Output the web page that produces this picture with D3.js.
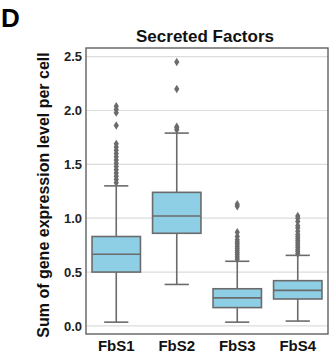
<!DOCTYPE html>
<html>
<head>
<meta charset="utf-8">
<script src="https://cdn.jsdelivr.net/npm/d3@7"></script>
<style>
  html, body { margin: 0; padding: 0; background: #fff; }
  svg { display: block; font-family: "Liberation Sans", Arial, sans-serif; }
</style>
</head>
<body>
<svg id="chart" width="330" height="356"></svg>
<script>
// Box-plot summary per fibroblast subset
const categories = ["FbS1", "FbS2", "FbS3", "FbS4"];
const q1 = [0.50, 0.86, 0.17, 0.25];
const median = [0.665, 1.02, 0.26, 0.33];
const q3 = [0.83, 1.24, 0.345, 0.42];
const whiskerLow = [0.035, 0.385, 0.035, 0.045];
const whiskerHigh = [1.30, 1.79, 0.60, 0.655];
const outliers = [
  [1.33, 1.36, 1.39, 1.42, 1.45, 1.48, 1.51, 1.54, 1.57, 1.60, 1.63, 1.66, 1.69, 1.86, 1.98, 2.01, 2.04],
  [1.82, 1.84, 1.85, 2.20, 2.45],
  [0.62, 0.64, 0.66, 0.68, 0.70, 0.72, 0.74, 0.76, 0.78, 0.80, 0.83, 0.87, 1.11, 1.13],
  [0.67, 0.69, 0.71, 0.73, 0.75, 0.77, 0.79, 0.81, 0.83, 0.85, 0.88, 0.91, 0.93, 0.97, 1.00, 1.02]
];
const yTicks = [0.0, 0.5, 1.0, 1.5, 2.0, 2.5];

const svg = d3.select("#chart");
const margin = { left: 86, right: 2, top: 48, bottom: 22 };
const W = 330, H = 356;
const plotW = W - margin.left - margin.right;
const plotH = H - margin.top - margin.bottom;

const x = d3.scaleBand().domain(categories).range([0, plotW]).paddingInner(0).paddingOuter(0);
const y = d3.scaleLinear().domain([-0.075, 2.58]).range([plotH, 0]);

const g = svg.append("g").attr("transform", `translate(${margin.left},${margin.top})`);

const lineColor = "#6b6b6b";
const boxFill = "#8ecfe6";

// horizontal grid
g.append("g").selectAll("line").data(yTicks).join("line")
  .attr("x1", 0).attr("x2", plotW)
  .attr("y1", d => y(d)).attr("y2", d => y(d))
  .attr("stroke", "#dcdcdc").attr("stroke-width", 1.2);

// y axis labels
const yAxis = d3.axisLeft(y).tickValues(yTicks).tickFormat(d3.format(".1f")).tickSize(0).tickPadding(4);
const ya = g.append("g").call(yAxis);
ya.select(".domain").remove();
ya.selectAll("text").attr("font-size", 13).attr("font-weight", "bold").attr("fill", "#222");

// x axis labels
const xAxis = d3.axisBottom(x).tickSize(0).tickPadding(6);
const xa = g.append("g").attr("transform", `translate(0,${plotH})`).call(xAxis);
xa.select(".domain").remove();
xa.selectAll("text").attr("font-size", 15).attr("font-weight", "bold").attr("fill", "#111");

const boxW = x.bandwidth() * 0.8;
const capW = boxW * 0.5;

const groups = g.append("g").selectAll("g").data(categories).join("g")
  .attr("transform", d => `translate(${x(d) + x.bandwidth() / 2},0)`);

// whiskers
groups.append("line")
  .attr("x1", 0).attr("x2", 0)
  .attr("y1", (d, i) => y(whiskerLow[i])).attr("y2", (d, i) => y(q1[i]))
  .attr("stroke", lineColor).attr("stroke-width", 1.6);
groups.append("line")
  .attr("x1", 0).attr("x2", 0)
  .attr("y1", (d, i) => y(q3[i])).attr("y2", (d, i) => y(whiskerHigh[i]))
  .attr("stroke", lineColor).attr("stroke-width", 1.6);
// caps
groups.append("line")
  .attr("x1", -capW / 2).attr("x2", capW / 2)
  .attr("y1", (d, i) => y(whiskerLow[i])).attr("y2", (d, i) => y(whiskerLow[i]))
  .attr("stroke", lineColor).attr("stroke-width", 1.6);
groups.append("line")
  .attr("x1", -capW / 2).attr("x2", capW / 2)
  .attr("y1", (d, i) => y(whiskerHigh[i])).attr("y2", (d, i) => y(whiskerHigh[i]))
  .attr("stroke", lineColor).attr("stroke-width", 1.6);
// boxes
groups.append("rect")
  .attr("x", -boxW / 2).attr("width", boxW)
  .attr("y", (d, i) => y(q3[i])).attr("height", (d, i) => y(q1[i]) - y(q3[i]))
  .attr("fill", boxFill).attr("stroke", lineColor).attr("stroke-width", 1.6);
// medians
groups.append("line")
  .attr("x1", -boxW / 2).attr("x2", boxW / 2)
  .attr("y1", (d, i) => y(median[i])).attr("y2", (d, i) => y(median[i]))
  .attr("stroke", lineColor).attr("stroke-width", 1.6);
// outlier diamonds
groups.each(function (d, i) {
  d3.select(this).selectAll("path.out").data(outliers[i]).join("path")
    .attr("class", "out")
    .attr("d", "M0,-4.2L2.6,0L0,4.2L-2.6,0Z")
    .attr("transform", v => `translate(0,${y(v)})`)
    .attr("fill", lineColor);
});

// frame
g.append("rect").attr("x", 0).attr("y", 0).attr("width", plotW).attr("height", plotH)
  .attr("fill", "none").attr("stroke", "#555").attr("stroke-width", 1.3);

// title
svg.append("text").attr("x", margin.left + plotW / 2 - 2).attr("y", 42)
  .attr("text-anchor", "middle").attr("font-size", 17).attr("font-weight", "bold")
  .attr("fill", "#111").text("Secreted Factors");

// panel letter
svg.append("text").attr("x", 1).attr("y", 27)
  .attr("font-size", 26).attr("font-weight", "bold").attr("fill", "#000").text("D");

// y axis title
svg.append("text")
  .attr("transform", `translate(49,${margin.top + plotH / 2 + 4}) rotate(-90)`)
  .attr("text-anchor", "middle").attr("font-size", 16).attr("font-weight", "bold")
  .attr("fill", "#111").text("Sum of gene expression level per cell");
</script>
</body>
</html>
